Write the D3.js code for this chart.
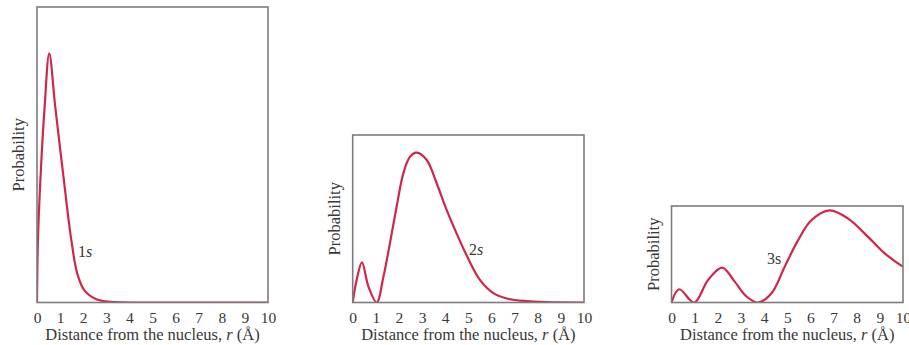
<!DOCTYPE html>
<meta charset="utf-8">
<script src="https://cdn.jsdelivr.net/npm/d3@7"></script>
<style>
    body { margin: 0; background: #fff; }
    .tick text { font-family: "Liberation Serif", "Times New Roman", serif; font-size: 15.5px; fill: #383838; }
    .domain { display: none; }
    .ylab, .xlab, .orb { font-family: "Liberation Serif", "Times New Roman", serif; fill: #383838; }
</style>
<body>
<svg class="chart"></svg>
<script>
    ///////////////////////
    // Data (r in angstrom, probability relative to frame height)
    var ticks = [0, 1, 2, 3, 4, 5, 6, 7, 8, 9, 10];

    var r1s = [0, 0.04, 0.16, 0.33, 0.53, 0.79, 1.13, 1.49, 1.75, 2.06, 2.57, 3.22, 4, 10];
    var p1s = [0, 0.209, 0.436, 0.662, 0.843, 0.662, 0.436, 0.209, 0.096, 0.040, 0.011, 0.002, 0, 0];

    var r2s = [0, 0.17, 0.40, 0.68, 1.04, 1.33, 1.61, 1.90, 2.19, 2.48, 2.77, 3.2, 3.63, 4.06, 4.5, 4.93, 5.5, 6.08, 6.66, 7.52, 8.39, 10];
    var p2s = [0, 0.135, 0.239, 0.095, 0, 0.155, 0.354, 0.573, 0.771, 0.871, 0.895, 0.851, 0.712, 0.553, 0.410, 0.280, 0.135, 0.056, 0.024, 0.008, 0.002, 0];

    var r3s = [0, 0.33, 0.98, 1.58, 2.19, 2.73, 3.24, 3.74, 4.32, 4.89, 5.47, 6.04, 6.83, 7.63, 8.49, 9.21, 10];
    var p3s = [0, 0.137, 0, 0.234, 0.361, 0.216, 0.062, 0, 0.096, 0.371, 0.646, 0.852, 0.955, 0.869, 0.680, 0.509, 0.371];

    var orbitals = ["1", "2", "3"];

    ///////////////////////
    // Panel frames (page pixels)
    var panels = [
        { r: r1s, p: p1s, left: 37, right: 268, top: 7, bottom: 302.5, label: [78, 257], italic: true },
        { r: r2s, p: p2s, left: 352.7, right: 584, top: 135, bottom: 302.5, label: [469, 255], italic: true },
        { r: r3s, p: p3s, left: 671.5, right: 903, top: 206, bottom: 302.5, label: [767, 264], italic: false }
    ];

    var svg = d3.select(".chart")
        .attr("width", 909)
        .attr("height", 345);

    var defs = svg.append("defs");

    panels.forEach(function(pn, i) {
        var x = d3.scaleLinear().domain([0, 10]).range([pn.left, pn.right]);
        var y = d3.scaleLinear().domain([0, 1]).range([pn.bottom, pn.top]);

        var g = svg.append("g");

        // keep the curve inside its frame
        defs.append("clipPath")
            .attr("id", "clip" + i)
            .append("rect")
            .attr("x", pn.left)
            .attr("y", pn.top - 5)
            .attr("width", pn.right - pn.left)
            .attr("height", pn.bottom - pn.top + 5);

        // curve
        var line = d3.line()
            .x(function(d) { return x(d[0]); })
            .y(function(d) { return y(d[1]); })
            .curve(d3.curveCatmullRom.alpha(0.5));

        g.append("path")
            .datum(d3.zip(pn.r, pn.p))
            .attr("clip-path", "url(#clip" + i + ")")
            .attr("fill", "none")
            .attr("stroke", "#d1264c")
            .attr("stroke-width", 2.2)
            .attr("stroke-linejoin", "round")
            .attr("d", line);

        // frame
        g.append("rect")
            .attr("x", pn.left)
            .attr("y", pn.top)
            .attr("width", pn.right - pn.left)
            .attr("height", pn.bottom - pn.top)
            .attr("fill", "none")
            .attr("stroke", "#7c7c7c")
            .attr("stroke-width", 1.6);

        // x axis: labels only
        g.append("g")
            .attr("transform", "translate(0," + pn.bottom + ")")
            .call(d3.axisBottom(x).tickValues(ticks).tickSize(0).tickPadding(9).tickFormat(d3.format("d")));

        // titles
        g.append("text")
            .attr("class", "ylab")
            .attr("text-anchor", "middle")
            .attr("font-size", "16.5px")
            .attr("transform", "translate(" + (pn.left - 13) + "," + ((pn.top + pn.bottom) / 2) + ") rotate(-90)")
            .text("Probability");

        var xt = g.append("text")
            .attr("class", "xlab")
            .attr("text-anchor", "middle")
            .attr("font-size", "16.5px")
            .attr("x", (pn.left + pn.right) / 2)
            .attr("y", 340);
        xt.append("tspan").text("Distance from the nucleus, ");
        xt.append("tspan").attr("font-style", "italic").text("r");
        xt.append("tspan").text(" (Å)");

        var ot = g.append("text")
            .attr("class", "orb")
            .attr("font-size", "16px")
            .attr("x", pn.label[0])
            .attr("y", pn.label[1]);
        ot.append("tspan").text(orbitals[i]);
        ot.append("tspan").attr("font-style", pn.italic ? "italic" : "normal").text("s");
    });
</script>
</body>
